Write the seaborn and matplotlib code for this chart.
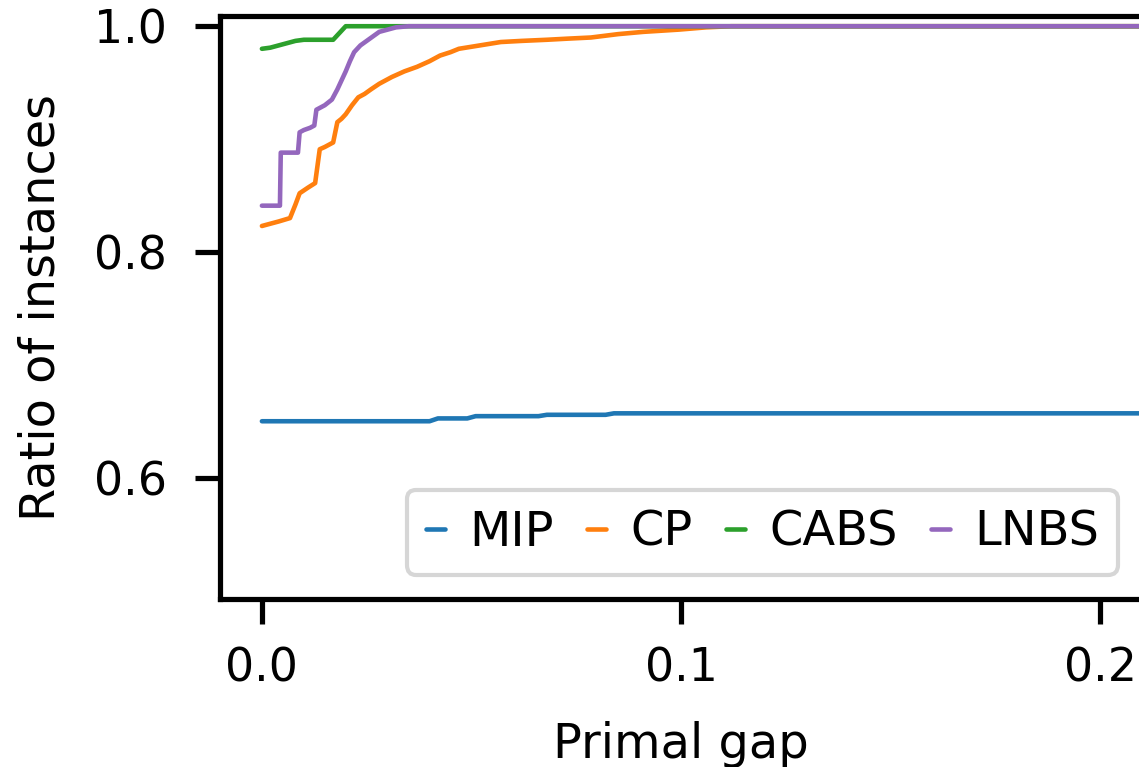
import matplotlib
matplotlib.use("Agg")
import matplotlib.pyplot as plt
import numpy as np
import pandas as pd
import seaborn as sns

# Cumulative ratio of instances solved within a given primal gap
mip_gap = [0.0, 0.040, 0.042, 0.049, 0.051, 0.066, 0.068, 0.082, 0.084, 0.21]
mip_ratio = [0.650, 0.650, 0.6525, 0.6525, 0.6545, 0.6545, 0.6557, 0.6557, 0.6570, 0.6570]

cp_gap = [0.0, 0.002, 0.004, 0.0067, 0.008, 0.009, 0.011, 0.0127, 0.0138, 0.015,
          0.017, 0.018, 0.019, 0.020, 0.0215, 0.023, 0.0245, 0.026, 0.028, 0.031,
          0.034, 0.037, 0.040, 0.0425, 0.045, 0.047, 0.052, 0.057, 0.062, 0.068,
          0.073, 0.0785, 0.085, 0.091, 0.0995, 0.106, 0.112, 0.21]
cp_ratio = [0.823, 0.825, 0.827, 0.830, 0.842, 0.852, 0.857, 0.861, 0.891, 0.893,
            0.897, 0.915, 0.918, 0.922, 0.930, 0.937, 0.940, 0.944, 0.949, 0.955,
            0.960, 0.964, 0.969, 0.974, 0.977, 0.980, 0.983, 0.986, 0.987, 0.988,
            0.989, 0.990, 0.993, 0.995, 0.997, 0.999, 1.0, 1.0]

cabs_gap = [0.0, 0.002, 0.004, 0.006, 0.008, 0.010, 0.017, 0.018, 0.019, 0.020, 0.21]
cabs_ratio = [0.980, 0.981, 0.983, 0.985, 0.987, 0.988, 0.988, 0.992, 0.996, 1.0, 1.0]

lnbs_gap = [0.0, 0.0043, 0.0045, 0.0086, 0.0090, 0.0100, 0.0115, 0.0125, 0.013,
            0.015, 0.0167, 0.018, 0.019, 0.020, 0.021, 0.022, 0.0235, 0.025,
            0.028, 0.032, 0.035, 0.21]
lnbs_ratio = [0.841, 0.841, 0.888, 0.888, 0.906, 0.908, 0.910, 0.912, 0.926,
              0.930, 0.935, 0.944, 0.952, 0.960, 0.969, 0.977, 0.983, 0.987,
              0.995, 0.999, 1.0, 1.0]

methods = ["MIP", "CP", "CABS", "LNBS"]
series = {
    "MIP": (mip_gap, mip_ratio),
    "CP": (cp_gap, cp_ratio),
    "CABS": (cabs_gap, cabs_ratio),
    "LNBS": (lnbs_gap, lnbs_ratio),
}
tab10 = sns.color_palette("tab10")
colors = {"MIP": tab10[0], "CP": tab10[1], "CABS": tab10[2], "LNBS": tab10[4]}

sns.set_style("ticks")
plt.rcParams.update({
    "font.family": ["DejaVu Sans"],
    "text.color": "black",
    "axes.labelcolor": "black",
    "axes.edgecolor": "black",
    "xtick.color": "black",
    "ytick.color": "black",
    "axes.linewidth": 1.25,
    "xtick.major.width": 1.25,
    "ytick.major.width": 1.25,
    "xtick.major.size": 6,
    "ytick.major.size": 6,
    "xtick.major.pad": 5.5,
    "ytick.major.pad": 6.7,
})

W, H, DPI = 1139, 767, 300
fig = plt.figure(figsize=(W / DPI, H / DPI), dpi=DPI)
ax = fig.add_axes([220 / W, (H - 599) / H, (1142 - 220) / W, (599 - 15.5) / H])

for name in methods:
    g, r = series[name]
    df = pd.DataFrame({"gap": g, "ratio": r})
    sns.lineplot(data=df, x="gap", y="ratio", ax=ax, color=colors[name],
                 label=name, estimator=None, linewidth=1.1)

ax.set_xlim(-0.01, 0.21)
ax.set_ylim(0.4925, 1.0095)
ax.set_xticks([0.0, 0.1, 0.2])
ax.set_yticks([0.6, 0.8, 1.0])
ax.set_xlabel("Primal gap", fontsize=11.5, labelpad=7)
ax.set_ylabel("Ratio of instances", fontsize=11.5, labelpad=7)
ax.tick_params(labelsize=11)

ax.legend(loc="lower right", ncol=4, handlelength=0.4, handletextpad=0.5,
          columnspacing=0.7, fontsize=11.5)

fig.savefig("out.png", dpi=DPI)
